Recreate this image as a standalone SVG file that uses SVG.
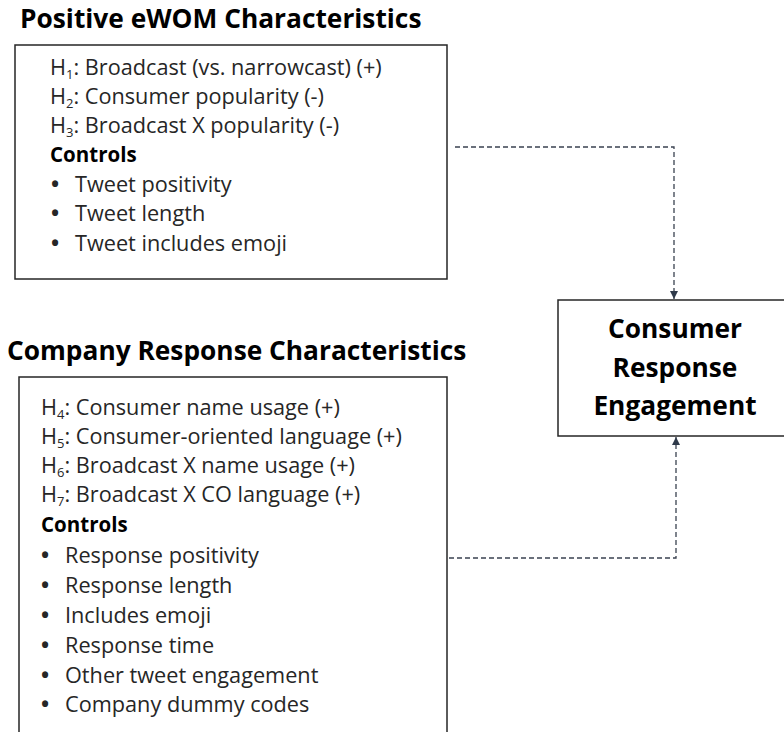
<svg xmlns="http://www.w3.org/2000/svg" width="784" height="732" viewBox="0 0 784 732">
<style>
.t{font-family:"Open Sans","Liberation Sans",sans-serif;font-size:21.7px;fill:#262626}
.bl{font-weight:bold}
.b{font-family:"Open Sans","Liberation Sans",sans-serif;font-weight:bold;fill:#000}
.h{font-size:26.3px}
.c{font-size:20.5px}
.sub{font-size:13px}
.box{fill:#fff;stroke:#262626;stroke-width:1.5}
.con{fill:none;stroke:#3a4250;stroke-width:1.3;stroke-dasharray:5 3}
</style>
<defs>
<marker id="arr" viewBox="0 0 10 10" refX="10" refY="5" markerWidth="8" markerHeight="8" markerUnits="userSpaceOnUse" orient="auto">
<path d="M0,0 L10,5 L0,10 z" fill="#2f3a4a"/>
</marker>
</defs>
<g id="connectors">
<path class="con" d="M455,147 H674 V299" marker-end="url(#arr)"/>
<path class="con" d="M449,558 H676 V437" marker-end="url(#arr)"/>
</g>
<g id="ewom">
<text class="b h" x="20" y="28">Positive eWOM Characteristics</text>
<rect class="box" x="15" y="45" width="432" height="234"/>
<text class="t" x="50" y="75">H<tspan class="sub" dy="4">1</tspan><tspan dy="-4">: Broadcast (vs. narrowcast) (+)</tspan></text>
<text class="t" x="50" y="104">H<tspan class="sub" dy="4">2</tspan><tspan dy="-4">: Consumer popularity (-)</tspan></text>
<text class="t" x="50" y="133">H<tspan class="sub" dy="4">3</tspan><tspan dy="-4">: Broadcast X popularity (-)</tspan></text>
<text class="b c" x="50" y="162">Controls</text>
<text class="t" x="51" y="192"><tspan class="bl">•</tspan><tspan x="75">Tweet positivity</tspan></text>
<text class="t" x="51" y="221"><tspan class="bl">•</tspan><tspan x="75">Tweet length</tspan></text>
<text class="t" x="51" y="251"><tspan class="bl">•</tspan><tspan x="75">Tweet includes emoji</tspan></text>
</g>
<g id="company">
<text class="b h" x="7" y="360">Company Response Characteristics</text>
<rect class="box" x="19" y="377" width="428" height="400"/>
<text class="t" x="41" y="415">H<tspan class="sub" dy="4">4</tspan><tspan dy="-4">: Consumer name usage (+)</tspan></text>
<text class="t" x="41" y="444">H<tspan class="sub" dy="4">5</tspan><tspan dy="-4">: Consumer-oriented language (+)</tspan></text>
<text class="t" x="41" y="473">H<tspan class="sub" dy="4">6</tspan><tspan dy="-4">: Broadcast X name usage (+)</tspan></text>
<text class="t" x="41" y="502">H<tspan class="sub" dy="4">7</tspan><tspan dy="-4">: Broadcast X CO language (+)</tspan></text>
<text class="b c" x="41" y="532">Controls</text>
<text class="t" x="41" y="563"><tspan class="bl">•</tspan><tspan x="65">Response positivity</tspan></text>
<text class="t" x="41" y="593"><tspan class="bl">•</tspan><tspan x="65">Response length</tspan></text>
<text class="t" x="41" y="623"><tspan class="bl">•</tspan><tspan x="65">Includes emoji</tspan></text>
<text class="t" x="41" y="653"><tspan class="bl">•</tspan><tspan x="65">Response time</tspan></text>
<text class="t" x="41" y="683"><tspan class="bl">•</tspan><tspan x="65">Other tweet engagement</tspan></text>
<text class="t" x="41" y="712"><tspan class="bl">•</tspan><tspan x="65">Company dummy codes</tspan></text>
</g>
<g id="engagement">
<rect class="box" x="558" y="300" width="230" height="136"/>
<text class="b h" x="675" y="338" text-anchor="middle">Consumer</text>
<text class="b h" x="675" y="377" text-anchor="middle">Response</text>
<text class="b h" x="675" y="415" text-anchor="middle">Engagement</text>
</g>
</svg>
